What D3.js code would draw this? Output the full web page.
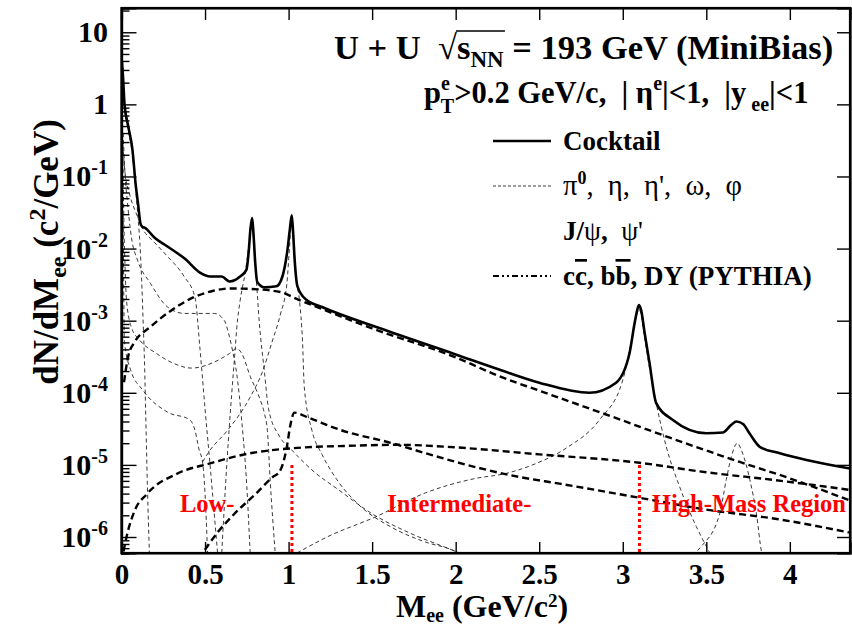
<!DOCTYPE html>
<html><head><meta charset="utf-8">
<script src="https://cdn.jsdelivr.net/npm/d3@7"></script>
<style>
body{margin:0;background:#fff;}
svg{display:block;}
text{font-family:"Liberation Serif","Times New Roman",serif;font-weight:bold;white-space:pre;}
</style></head><body>
<svg id="chart" width="852" height="626"></svg>
<script>
// ---- dielectron cocktail, U+U at sqrt(s_NN)=193 GeV : [M_ee (GeV/c^2), dN/dM_ee] ----
const cocktail = [[0.002,4.0],[0.01,2.2],[0.018,1.0],[0.04,0.5],[0.066,0.23],[0.084,0.081],[0.1,0.04],[0.114,0.022],[0.125,0.02],[0.138,0.0195],
  [0.2,0.014],[0.275,0.0107],[0.38,0.0072],[0.472,0.0046],[0.53,0.0041],[0.6,0.0041],[0.646,0.0035],[0.71,0.0041],[0.748,0.0051],[0.762,0.0095],
  [0.772,0.019],[0.782,0.0265],[0.79,0.016],[0.80,0.0065],[0.813,0.0034],[0.855,0.0029],[0.927,0.0030],[0.963,0.0041],[0.993,0.0095],[1.007,0.018],
  [1.019,0.029],[1.027,0.017],[1.035,0.0078],[1.053,0.0030],[1.106,0.00195],[1.2,0.00155],[1.543,0.00079],[2.0,0.00034],[2.26,0.00021],[2.5,0.000138],
  [2.8,0.0001],[2.96,0.000138],[3.04,0.00035],[3.07,0.0009],[3.085,0.00135],[3.097,0.00165],[3.11,0.0014],[3.13,0.0007],[3.16,0.00026],[3.2,0.000072],
  [3.3,0.000042],[3.5,0.0000275],[3.6,0.0000282],[3.65,0.000036],[3.68,0.000040],[3.72,0.000037],[3.76,0.000027],[3.82,0.0000178],[3.94,0.0000145],
  [4.1,0.0000117],[4.36,0.0000089]];

// light-flavour hadron decays
const pi0Dalitz = [[0.002,3.9],[0.01,2.1],[0.018,0.95],[0.04,0.45],[0.066,0.2],[0.084,0.07],[0.1,0.025],[0.11,0.012],[0.12,0.004],[0.13,0.0009],
  [0.138,0.00025],[0.145,0.00005],[0.155,0.000005],[0.167,0.0000006]];
const etaDalitz = [[0.005,0.35],[0.02,0.12],[0.05,0.055],[0.09,0.03],[0.126,0.019],[0.2,0.012],[0.275,0.0078],[0.375,0.0041],[0.44,0.0021],
  [0.47,0.0004],[0.5,0.00006],[0.53,0.00001],[0.575,0.0000006]];
const etapDalitz = [[0.008,0.25],[0.015,0.02],[0.022,0.005],[0.03,0.0019],[0.06,0.0008],[0.108,0.00054],[0.21,0.00035],[0.305,0.00026],[0.42,0.00022],
  [0.544,0.00026],[0.646,0.00035],[0.69,0.00041],[0.72,0.00035],[0.77,0.00017],[0.83,0.00008],[0.855,0.000052],[0.873,0.00003],[0.89,0.000006],[0.92,0.0000006]];
const omegaDalitz = [[0.01,0.4],[0.02,0.12],[0.036,0.043],[0.06,0.014],[0.096,0.0069],[0.173,0.0033],[0.275,0.00155],[0.377,0.00126],[0.556,0.00126],
  [0.616,0.001],[0.646,0.0006],[0.664,0.00039],[0.69,0.00018],[0.72,0.00004],[0.75,0.000005],[0.77,0.0000006]];
const phiDalitz = [[0.01,0.03],[0.018,0.0005],[0.054,0.00021],[0.126,0.00011],[0.275,0.000054],[0.41,0.000042],[0.44,0.00003],[0.465,0.000016],
  [0.485,0.000011],[0.5,0.000004],[0.515,0.0000006]];
const omegaEE = [[0.6,0.0000006],[0.63,0.00001],[0.66,0.0001],[0.68,0.00039],[0.69,0.0008],[0.71,0.0019],[0.74,0.0046],[0.76,0.01],[0.772,0.017],
  [0.782,0.023],[0.79,0.014],[0.8,0.006],[0.807,0.0037],[0.825,0.00093],[0.855,0.0002],[0.88,0.00006],[0.945,0.000025],[1.02,0.000016],[1.14,0.0000085],
  [1.3,0.0000045],[1.5,0.0000021],[1.72,0.00000115],[2.0,0.00000063],[2.1,0.0000005]];
const phiEE = [[0.485,0.000011],[0.53,0.000016],[0.634,0.00003],[0.77,0.000087],[0.845,0.0002],[0.9,0.0005],[0.95,0.0012],[0.99,0.0033],[1.005,0.01],
  [1.019,0.026],[1.03,0.012],[1.045,0.004],[1.065,0.0019],[1.083,0.00054],[1.094,0.00012],[1.14,0.00003],[1.2,0.000014],[1.29,0.0000062],[1.42,0.0000028],
  [1.62,0.00000135],[1.82,0.00000085],[1.98,0.00000066],[2.05,0.00000055]];

// quarkonia
const jpsi = [[1.05,0.0000006],[1.23,0.000001],[1.52,0.0000019],[1.82,0.0000041],[2.12,0.0000065],[2.3,0.0000076],[2.46,0.00001],[2.66,0.000017],
  [2.86,0.000042],[3.0,0.00015],[3.05,0.0005],[3.08,0.0011],[3.097,0.00145],[3.11,0.0012],[3.13,0.0006],[3.16,0.00022],[3.2,0.000072],[3.26,0.000018],
  [3.34,0.000005],[3.44,0.0000014],[3.5,0.00000074],[3.54,0.0000005]];
const psi2s = [[3.38,0.0000005],[3.47,0.00000074],[3.58,0.0000021],[3.62,0.0000063],[3.65,0.000013],[3.686,0.00002],[3.71,0.000016],[3.76,0.0000063],
  [3.8,0.0000021],[3.83,0.00000063],[3.84,0.0000005]];

// heavy flavour and Drell-Yan (PYTHIA)
const ccbar = [[0.015,0.00014],[0.04,0.00032],[0.08,0.00051],[0.17,0.00081],[0.3,0.0014],[0.43,0.0021],[0.55,0.0026],[0.65,0.0028],[0.78,0.00275],
  [0.95,0.0025],[1.06,0.00195],[1.2,0.00145],[1.5,0.00078],[2.0,0.00031],[2.26,0.00017],[2.5,0.000107],[2.9,0.00005],[3.3,0.000023],[3.7,0.000011],
  [4.0,0.0000065],[4.36,0.0000032]];
const bbbar = [[0.012,0.00000063],[0.03,0.000001],[0.078,0.0000023],[0.15,0.0000039],[0.335,0.0000076],[0.53,0.0000105],[0.77,0.0000145],[1.02,0.000017],
  [1.4,0.0000185],[1.66,0.000019],[2.0,0.0000175],[2.5,0.000014],[3.1,0.0000107],[3.5,0.0000079],[3.9,0.0000062],[4.36,0.0000045]];
const drellYan = [[0.46,0.0000005],[0.485,0.0000006],[0.574,0.00000115],[0.676,0.0000021],[0.81,0.0000041],[0.905,0.0000068],[0.945,0.000008],
  [0.99,0.000018],[1.01,0.000035],[1.035,0.000053],[1.12,0.000045],[1.32,0.00003],[1.62,0.00002],[1.82,0.0000145],[2.12,0.0000093],[2.38,0.0000068],
  [2.62,0.0000055],[3.1,0.0000035],[3.5,0.0000024],[3.94,0.00000175],[4.36,0.00000115]];

// axis ticks
const xTicks = [0, 0.5, 1, 1.5, 2, 2.5, 3, 3.5, 4];
const xTickLabels = ["0", "0.5", "1", "1.5", "2", "2.5", "3", "3.5", "4"];
const yDecades = [1e-6, 1e-5, 1e-4, 1e-3, 1e-2, 1e-1, 1, 10];
const yExponents = [-6, -5, -4, -3, -2, -1, 0, 1];

// mass-region boundaries and labels
const regionEdges = [1.02, 3.1];
const regionTop = 1e-5;
const regionLabels = [{text: "Low-", m: 0.35}, {text: "Intermediate-", m: 1.59}, {text: "High-Mass Region", m: 3.175}];
const regionLabelLevel = 2.2e-6;

// ---- drawing ----
const svg = d3.select("#chart");
const plot = {left: 121.5, right: 850, top: 8, bottom: 553};
const x = d3.scaleLinear().domain([0, 4.36]).range([plot.left, plot.right]);
const y = d3.scaleLog().domain([6.0e-7, 21.7]).range([plot.bottom, plot.top]);

svg.append("defs").append("clipPath").attr("id", "clip")
  .append("rect").attr("x", plot.left).attr("y", plot.top)
  .attr("width", plot.right - plot.left).attr("height", plot.bottom - plot.top);

const line = d3.line().x(d => x(d[0])).y(d => y(d[1])).curve(d3.curveMonotoneX);
const g = svg.append("g").attr("clip-path", "url(#clip)");

// thin dashed: individual hadron & quarkonium sources
[pi0Dalitz, etaDalitz, etapDalitz, omegaDalitz, phiDalitz, omegaEE, phiEE, jpsi, psi2s].forEach(s => {
  g.append("path").attr("d", line(s)).attr("fill", "none")
    .attr("stroke", "#222").attr("stroke-width", 0.9).attr("stroke-dasharray", "4,3");
});
// thick dashed: correlated heavy flavour and Drell-Yan
[ccbar, bbbar, drellYan].forEach(s => {
  g.append("path").attr("d", line(s)).attr("fill", "none")
    .attr("stroke", "#000").attr("stroke-width", 2.4).attr("stroke-dasharray", "7,4");
});
// total cocktail
g.append("path").attr("d", line(cocktail)).attr("fill", "none")
  .attr("stroke", "#000").attr("stroke-width", 2.6).attr("stroke-linejoin", "round");

// region markers
regionEdges.forEach(m => {
  svg.append("line").attr("x1", x(m)).attr("x2", x(m)).attr("y1", y(regionTop)).attr("y2", plot.bottom)
    .attr("stroke", "#f00").attr("stroke-width", 3).attr("stroke-dasharray", "3,3");
});
regionLabels.forEach(r => {
  svg.append("text").attr("x", x(r.m)).attr("y", y(regionLabelLevel))
    .attr("fill", "#f00").attr("font-size", 24.5).text(r.text);
});

// axes (ticks pointing inward, on all four sides)
const axG = svg.append("g");
const bottomAxis = d3.axisBottom(x).tickValues(xTicks).tickSize(-11).tickPadding(10)
  .tickFormat((d, i) => xTickLabels[i]);
axG.append("g").attr("transform", `translate(0,${plot.bottom})`).call(bottomAxis);
axG.append("g").attr("transform", `translate(0,${plot.top})`)
  .call(d3.axisTop(x).tickValues(xTicks).tickSize(-12).tickFormat(""));

const minor = [];
for (let e = -7; e <= 1; e++) for (let k = 2; k <= 9; k++) {
  const v = k * Math.pow(10, e);
  if (v >= y.domain()[0] && v <= y.domain()[1]) minor.push(v);
}
axG.append("g").attr("transform", `translate(${plot.left},0)`)
  .call(d3.axisLeft(y).tickValues(yDecades).tickSize(-15).tickFormat(""));
axG.append("g").attr("transform", `translate(${plot.left},0)`)
  .call(d3.axisLeft(y).tickValues(minor).tickSize(-8).tickFormat(""));
axG.append("g").attr("transform", `translate(${plot.right},0)`)
  .call(d3.axisRight(y).tickValues(yDecades).tickSize(-13).tickFormat(""));

axG.selectAll(".domain").attr("stroke", "#000").attr("stroke-width", 2.2);
axG.selectAll(".tick line").attr("stroke", "#000").attr("stroke-width", 1.4);
axG.selectAll(".tick text").attr("font-size", 29).attr("fill", "#000");

// frame
svg.append("rect").attr("x", plot.left).attr("y", plot.top)
  .attr("width", plot.right - plot.left).attr("height", plot.bottom - plot.top)
  .attr("fill", "none").attr("stroke", "#000").attr("stroke-width", 2.2);

// y tick labels with exponent
yDecades.forEach((v, i) => {
  const t = svg.append("text").attr("x", 108).attr("y", y(v) + 10)
    .attr("text-anchor", "end").attr("font-size", 30);
  const ex = yExponents[i];
  if (ex === 0) t.text("1");
  else if (ex === 1) t.text("10");
  else {
    t.append("tspan").text("10");
    t.append("tspan").attr("font-size", 20).attr("dy", -12).text(String(ex));
  }
});

// axis titles
const xt = svg.append("text").attr("x", 482).attr("y", 617).attr("text-anchor", "middle").attr("font-size", 32);
xt.append("tspan").text("M");
xt.append("tspan").attr("font-size", 20).attr("dy", 5).text("ee");
xt.append("tspan").attr("dy", -5).text(" (GeV/c");
xt.append("tspan").attr("font-size", 19).attr("dy", -10).text("2");
xt.append("tspan").attr("dy", 10).text(")");

const yt = svg.append("text").attr("transform", "translate(58,252) rotate(-90)")
  .attr("text-anchor", "middle").attr("font-size", 35);
yt.append("tspan").text("dN/dM");
yt.append("tspan").attr("font-size", 24).attr("dy", 8).text("ee");
yt.append("tspan").attr("dy", -8).text(" (c");
yt.append("tspan").attr("font-size", 24).attr("dy", -13).text("2");
yt.append("tspan").attr("dy", 13).text("/GeV)");

// header text
const title = svg.append("text").attr("x", 334).attr("y", 59).attr("font-size", 34.5);
title.append("tspan").text("U + U  ");
const rootSign = title.append("tspan").style("font-weight", "normal").text("\u221A");
title.append("tspan").text("s");
const nnTs = title.append("tspan").attr("font-size", 23).attr("dy", 8).text("NN");
title.append("tspan").attr("dy", -8).text(" = 193 GeV (MiniBias)");
{
  const rb = rootSign.node().getBBox();
  const nb = nnTs.node().getBBox();
  svg.append("line").attr("x1", rb.x + rb.width - 1).attr("x2", nb.x + nb.width + 1)
    .attr("y1", rb.y + 3).attr("y2", rb.y + 3).attr("stroke", "#000").attr("stroke-width", 1.6);
}

const sub = svg.append("text").attr("x", 424).attr("y", 103).attr("font-size", 30.5);
sub.append("tspan").text("p");
sub.append("tspan").attr("font-size", 20).attr("dy", -13).text("e");
sub.append("tspan").attr("font-size", 20).attr("dx", -9).attr("dy", 23).text("T");
sub.append("tspan").attr("dy", -10).text(">0.2 GeV/c,  | \u03B7");
sub.append("tspan").attr("font-size", 20).attr("dy", -13).text("e");
sub.append("tspan").attr("dy", 13).text("|<1,  |y");
sub.append("tspan").attr("font-size", 20).attr("dy", 8).text(" ee");
sub.append("tspan").attr("dy", -8).text("|<1");

// legend
const legend = svg.append("g");
legend.append("line").attr("x1", 493).attr("x2", 551).attr("y1", 141).attr("y2", 141)
  .attr("stroke", "#000").attr("stroke-width", 2.4);
legend.append("text").attr("x", 563).attr("y", 150).attr("font-size", 27).text("Cocktail");
legend.append("line").attr("x1", 493).attr("x2", 551).attr("y1", 186).attr("y2", 186)
  .attr("stroke", "#222").attr("stroke-width", 0.9).attr("stroke-dasharray", "3,2");
const l2 = legend.append("text").attr("x", 563).attr("y", 195).attr("font-size", 28.5).style("font-weight", "normal");
l2.append("tspan").text("\u03C0");
l2.append("tspan").attr("font-size", 18).style("font-weight", "bold").attr("dy", -11).text("0");
l2.append("tspan").attr("dy", 11).text(",  \u03B7,  \u03B7',  \u03C9,  \u03C6");
const l3 = legend.append("text").attr("x", 563).attr("y", 240).attr("font-size", 27);
l3.append("tspan").text("J/");
l3.append("tspan").style("font-weight", "normal").text("\u03C8");
l3.append("tspan").text(",  ");
l3.append("tspan").style("font-weight", "normal").text("\u03C8'");
legend.append("line").attr("x1", 493).attr("x2", 551).attr("y1", 276).attr("y2", 276)
  .attr("stroke", "#000").attr("stroke-width", 1.8).attr("stroke-dasharray", "6,3,2,3,2,3");
const l4 = legend.append("text").attr("x", 563).attr("y", 285).attr("font-size", 27);
l4.append("tspan").text("c");
l4.append("tspan").style("text-decoration", "overline").text("c");
l4.append("tspan").text(", b");
l4.append("tspan").style("text-decoration", "overline").text("b");
l4.append("tspan").text(", DY (PYTHIA)");
</script>
</body></html>
